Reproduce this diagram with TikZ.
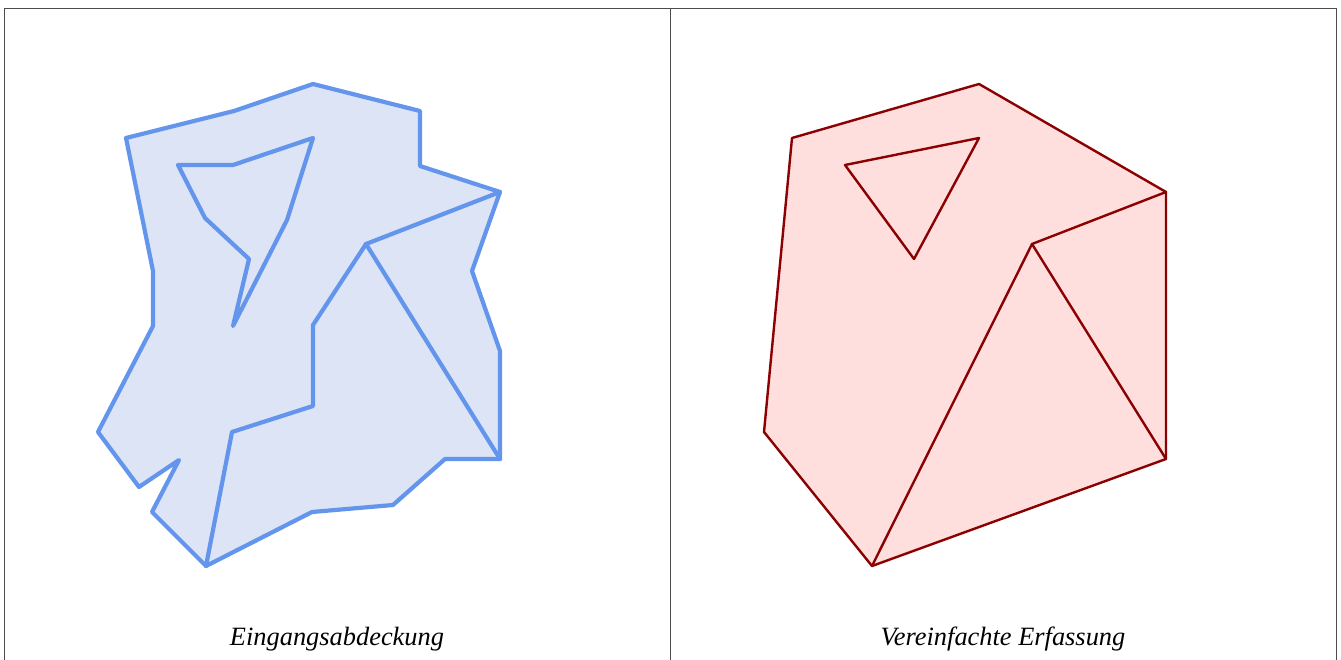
\documentclass[tikz,border=0pt]{standalone}
\usepackage{fontspec}
\setmainfont{Liberation Serif}
\definecolor{bstroke}{HTML}{6495ED}
\definecolor{bfill}{HTML}{DCE4F5}
\definecolor{rstroke}{HTML}{8B0000}
\definecolor{rfill}{HTML}{FFDEDE}
\begin{document}
\begin{tikzpicture}[x=1pt,y=-1pt,
  frame/.style={draw=black!70,line width=1pt},
  inedge/.style={draw=bstroke,line width=4.2pt,line join=round,line cap=round},
  outedge/.style={draw=rstroke,line width=2.4pt,line join=round,line cap=round},
  caption/.style={anchor=base,font=\itshape\fontsize{26.4}{30}\selectfont}]
\useasboundingbox (0,0) rectangle (1341,660);
% frames
\draw[frame] (4,670) -- (4,8.5) -- (1336,8.5) -- (1336,670);
\draw[frame] (670.5,8.5) -- (670.5,670);
% left: input coverage
\fill[bfill] (126,138) -- (234,111) -- (313,84) -- (420,111) -- (420,166) -- (500,192) -- (472,271) -- (500,351) -- (500,459) -- (445,459) -- (393,505) -- (312,512) -- (206,566) -- (152,512) -- (179,460) -- (139,487) -- (98,432) -- (153,326) -- (153,271) -- cycle;
\draw[inedge] (126,138) -- (234,111) -- (313,84) -- (420,111) -- (420,166) -- (500,192) -- (472,271) -- (500,351) -- (500,459) -- (445,459) -- (393,505) -- (312,512) -- (206,566) -- (152,512) -- (179,460) -- (139,487) -- (98,432) -- (153,326) -- (153,271) -- cycle;
\draw[inedge] (178,165) -- (233,165) -- (313,138) -- (287,220) -- (233,326) -- (249,259) -- (205,218) -- cycle;
\draw[inedge] (500,192) -- (366,244) -- (313,325) -- (313,406) -- (232,432) -- (206,566);
\draw[inedge] (366,244) -- (500,459);
% right: simplified coverage
\begin{scope}[xshift=666]
\fill[rfill] (126,138) -- (313,84) -- (500,192) -- (500,459) -- (206,566) -- (98,432) -- cycle;
\draw[outedge] (126,138) -- (313,84) -- (500,192) -- (500,459) -- (206,566) -- (98,432) -- cycle;
\draw[outedge] (179,165) -- (313,138) -- (248,259) -- cycle;
\draw[outedge] (500,192) -- (366,244) -- (206,566);
\draw[outedge] (366,244) -- (500,459);
\end{scope}
\node[caption] (capL) at (337,645) {Eingangsabdeckung};
\node[caption] (capR) at (1003,645) {Vereinfachte Erfassung};
\end{tikzpicture}
\end{document}
